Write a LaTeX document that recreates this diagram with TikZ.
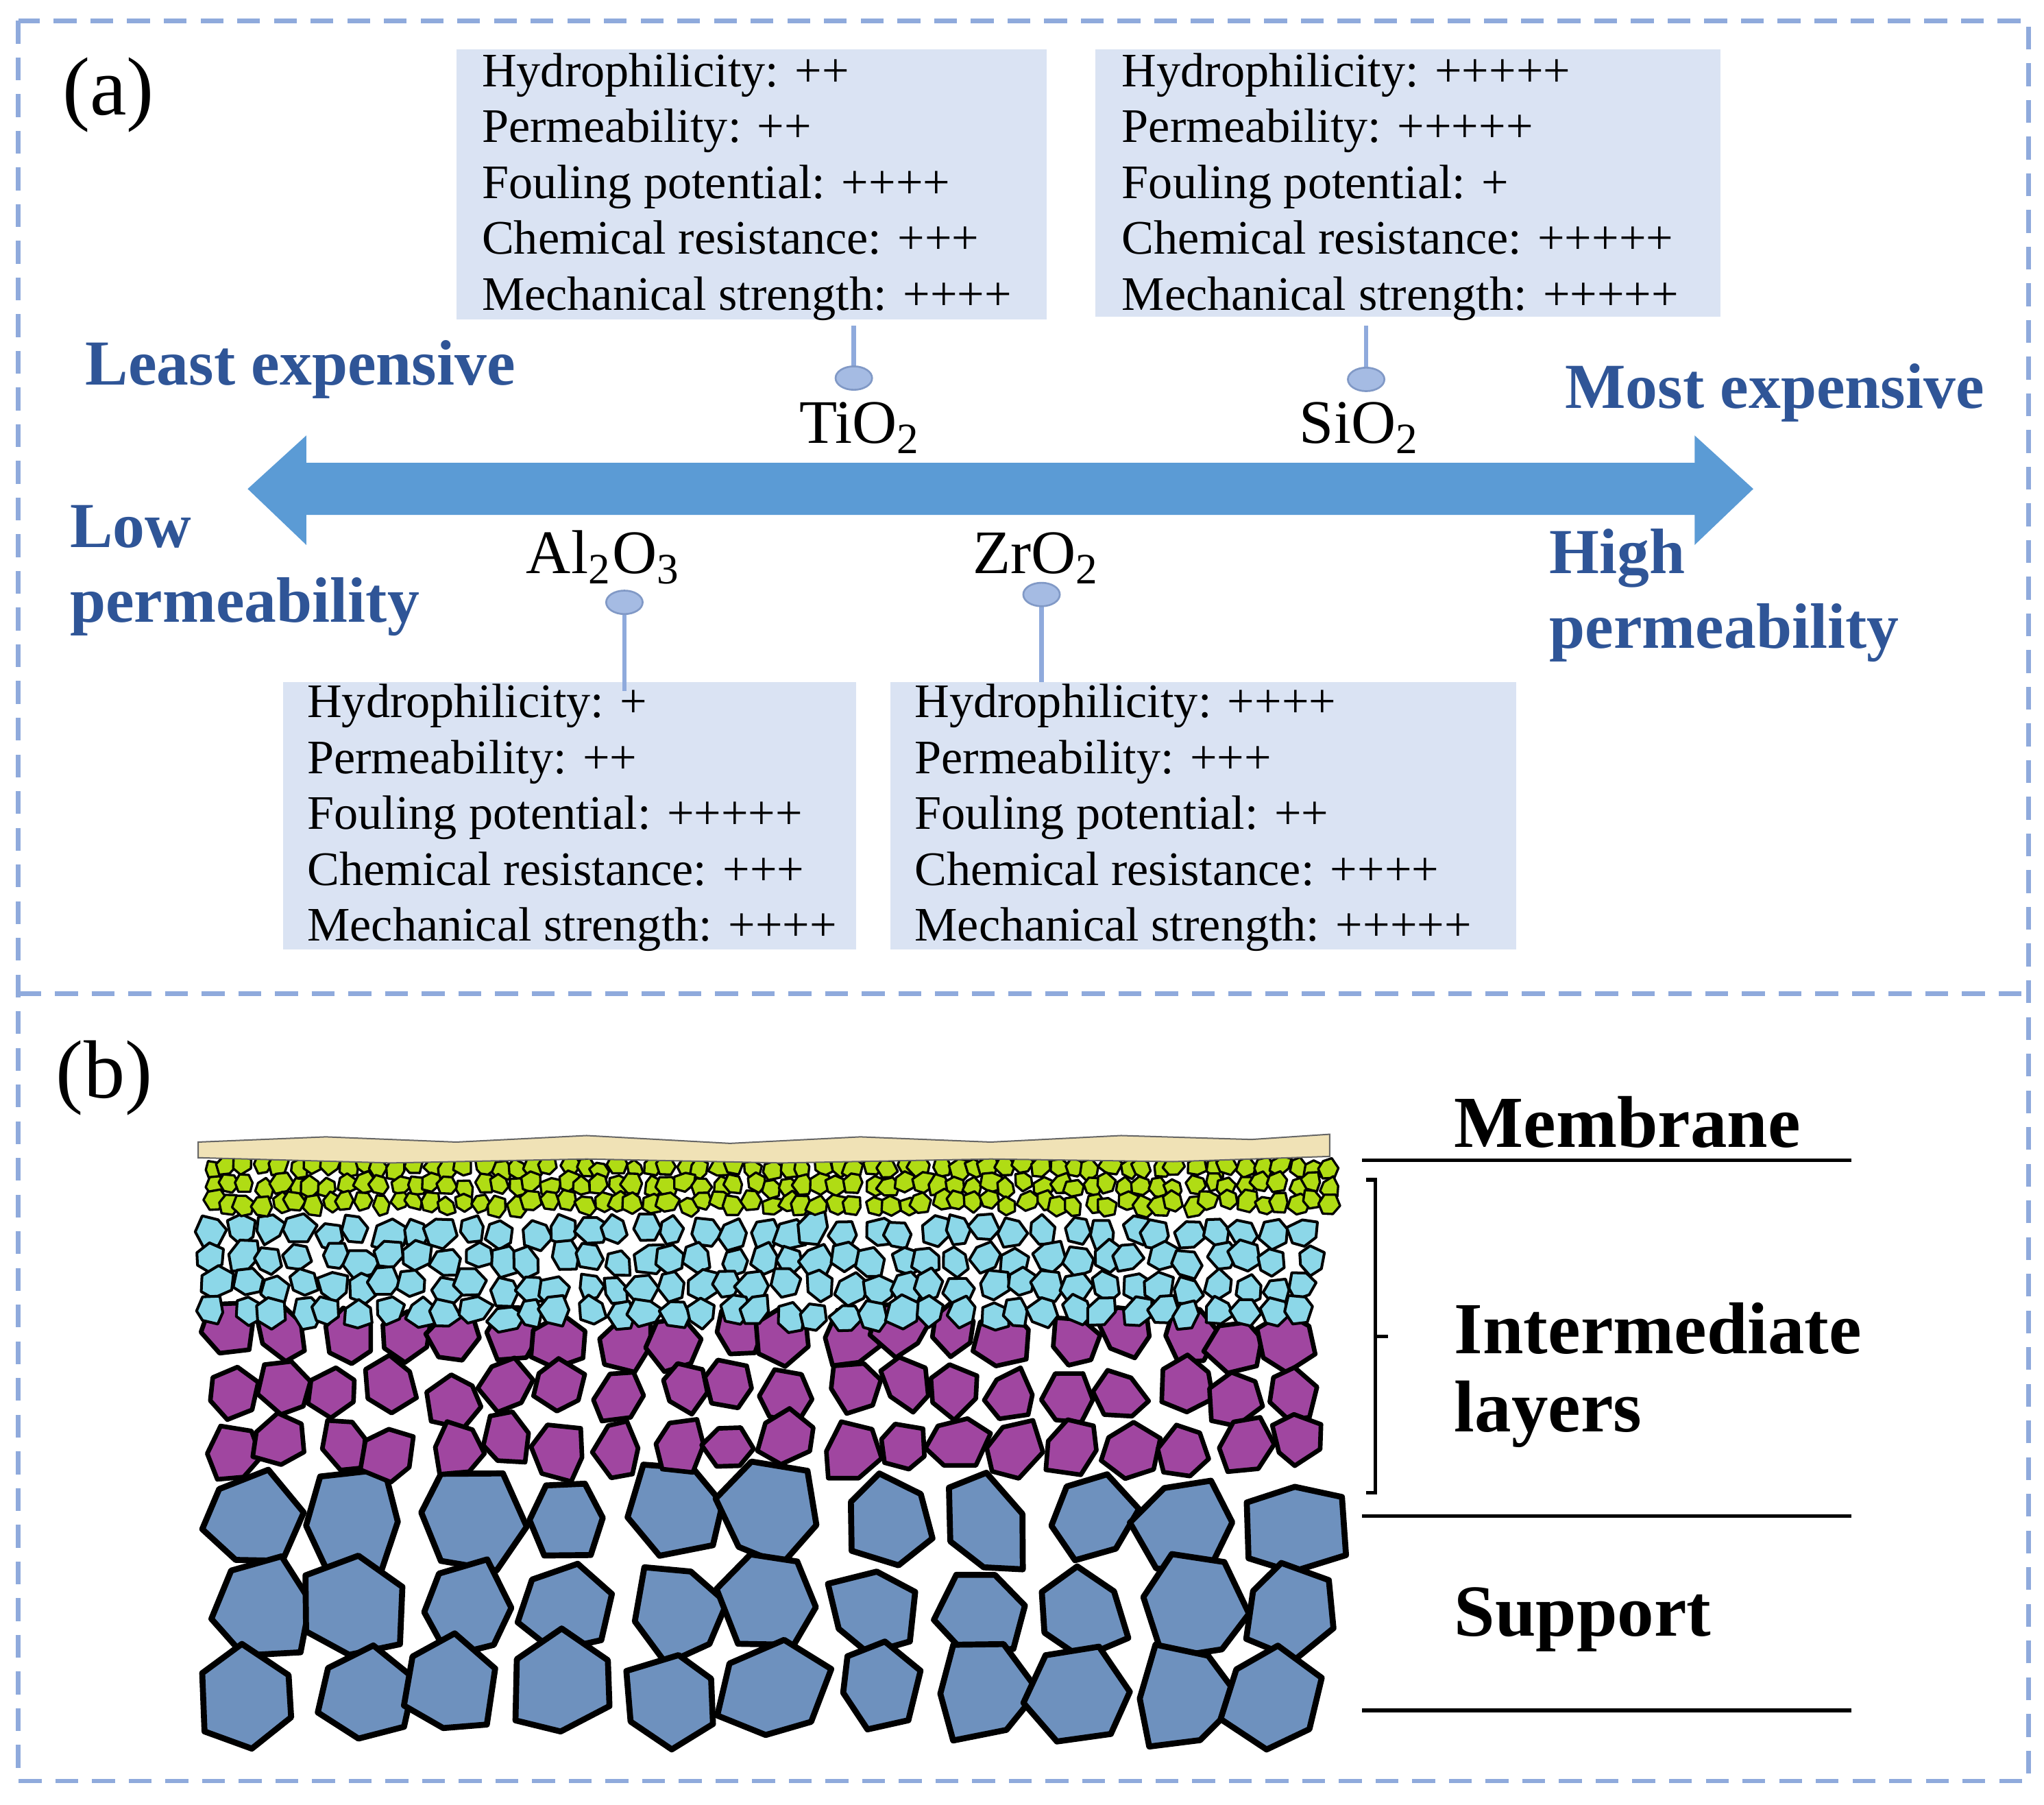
\documentclass[tikz,border=0pt]{standalone}
\usepackage{fontspec}
\setmainfont{Liberation Serif}
\begin{document}
\definecolor{boxfill}{RGB}{218,227,243}
\definecolor{arrowblue}{RGB}{91,155,213}
\definecolor{labblue}{RGB}{47,85,151}
\definecolor{pinblue}{RGB}{143,170,220}
\definecolor{dashc}{RGB}{143,170,220}
\definecolor{greenp}{RGB}{176,220,20}
\definecolor{cyanp}{RGB}{140,215,232}
\definecolor{purplep}{RGB}{160,70,160}
\definecolor{bluep}{RGB}{110,145,190}
\definecolor{beige}{RGB}{240,226,182}
\begin{tikzpicture}[x=0.01cm,y=-0.01cm,
  prop/.style={anchor=north west,align=left,inner sep=0pt,font=\fontsize{10.5}{12.2}\selectfont},
  pbox/.style={fill=boxfill,draw=none},
  blab/.style={anchor=base west,inner sep=0pt,text=labblue,font=\fontsize{14}{16}\selectfont\bfseries},
  chem/.style={anchor=base,inner sep=0pt,font=\fontsize{13.5}{16}\selectfont},
  pin/.style={draw=pinblue,line width=1pt},
  pinhead/.style={fill=pinblue!80,draw=pinblue!90!black,line width=0.4pt},
  blk/.style={anchor=base west,inner sep=0pt,font=\fontsize{16}{18}\selectfont\bfseries},
  sep/.style={line width=0.8pt}]
\useasboundingbox (0,0) rectangle (1568,1384);
\fill[white] (0,0) rectangle (1568,1384);
\draw[dashc,dashed,line width=1pt,dash pattern=on 5pt off 3pt] (14,16) rectangle (1556,1366);
\draw[dashc,line width=1pt,dash pattern=on 5pt off 3pt] (14,762) -- (1556,762);
\node[anchor=base,font=\fontsize{18}{20}\selectfont] (la) at (83,88) {(a)};
\node[anchor=base,font=\fontsize{18}{20}\selectfont] (lb) at (80,842) {(b)};
% boxes
\fill[pbox] (350,38) rectangle (803,245);
\fill[pbox] (840,38) rectangle (1320,243);
\fill[pbox] (217,523) rectangle (657,728);
\fill[pbox] (683,523) rectangle (1163,728);
\node[prop] (t1) at (369,40) {Hydrophilicity: ++\\Permeability: ++\\Fouling potential: ++++\\Chemical resistance: +++\\Mechanical strength: ++++};
\node[prop] (t2) at (860,40) {Hydrophilicity: +++++\\Permeability: +++++\\Fouling potential: +\\Chemical resistance: +++++\\Mechanical strength: +++++};
\node[prop] (t3) at (235,524) {Hydrophilicity: +\\Permeability: ++\\Fouling potential: +++++\\Chemical resistance: +++\\Mechanical strength: ++++};
\node[prop] (t4) at (701,524) {Hydrophilicity: ++++\\Permeability: +++\\Fouling potential: ++\\Chemical resistance: ++++\\Mechanical strength: +++++};
% arrow
\fill[arrowblue] (190,375) -- (235,334) -- (235,355) -- (1300,355) -- (1300,334) -- (1345,375) -- (1300,418) -- (1300,395) -- (235,395) -- (235,418) -- cycle;
% pins
\draw[pin] (655,250) -- (655,283); \draw[pinhead] (655,290) ellipse (14 and 9);
\draw[pin] (1048,250) -- (1048,284); \draw[pinhead] (1048,291) ellipse (14 and 9);
\draw[pin] (479,470) -- (479,530); \draw[pinhead] (479,462) ellipse (14 and 9);
\draw[pin] (799,464) -- (799,523); \draw[pinhead] (799,456) ellipse (14 and 9);
\node[chem] (ti) at (660,340) {TiO\textsubscript{2}};
\node[chem] (si) at (1043,340) {SiO\textsubscript{2}};
\node[chem] (al) at (463,440) {Al\textsubscript{2}O\textsubscript{3}};
\node[chem] (zr) at (795,440) {ZrO\textsubscript{2}};
\node[blab] (le) at (65,295) {Least expensive};
\node[blab] (me) at (1200,313) {Most expensive};
\node[blab] (lo) at (53,420) {Low};
\node[blab] (lp) at (53,477) {permeability};
\node[blab] (hi) at (1188,440) {High};
\node[blab] (hp) at (1188,497) {permeability};
% part b
\pgfmathsetseed{7}
\newcommand\mypart[5]{% x y r color lw
  \filldraw[fill=#4,draw=black,line width=#5,line join=round,shift={(#1,#2)},rotate={rnd*60},xscale={0.85+0.3*rnd}]
   (0:{#3*(0.65+0.35*rnd)}) -- (60:{#3*(0.65+0.35*rnd)}) -- (120:{#3*(0.65+0.35*rnd)}) -- (180:{#3*(0.65+0.35*rnd)}) -- (240:{#3*(0.65+0.35*rnd)}) -- (300:{#3*(0.65+0.35*rnd)}) -- cycle;}
% blue support
\foreach \yy in {1165,1235,1298}{
  \foreach \xx in {195,275,355,435,515,595,675,755,835,915,985}{
    \pgfmathsetmacro\px{\xx+rand*10}\pgfmathsetmacro\py{\yy+rand*7}
    \mypart{\px}{\py}{46}{bluep}{1.3pt}}}
% purple
\foreach \yy in {1025,1068,1110}{
  \foreach \xx in {175,218,...,1000}{
    \pgfmathsetmacro\px{\xx+rand*7}\pgfmathsetmacro\py{\yy+rand*7}
    \mypart{\px}{\py}{25}{purplep}{1pt}}}
% cyan
\foreach \yy in {945,966,987,1008}{
  \foreach \xx in {165,187,...,1010}{
    \pgfmathsetmacro\px{\xx+rand*5}\pgfmathsetmacro\py{\yy+rand*4}
    \mypart{\px}{\py}{14}{cyanp}{0.6pt}}}
% green
\foreach \yy in {895,909,923}{
  \foreach \xx in {162,175,...,1020}{
    \pgfmathsetmacro\px{\xx+rand*3}\pgfmathsetmacro\py{\yy+rand*3}
    \mypart{\px}{\py}{9.5}{greenp}{0.5pt}}}
% membrane
\filldraw[fill=beige,draw=black!60,line width=0.3pt] (152,876) -- (250,872) -- (350,876) -- (450,871) -- (560,877) -- (660,872) -- (760,876) -- (860,871) -- (960,874) -- (1020,870) -- (1020,887) -- (900,891) -- (760,889) -- (600,892) -- (450,889) -- (300,892) -- (152,888) -- cycle;
% labels b
\draw[sep] (1045,890) -- (1420,890);
\draw[sep] (1045,1163) -- (1420,1163);
\draw[sep] (1045,1312) -- (1420,1312);
\draw[line width=0.8pt] (1048,905) -- (1055,905) -- (1055,1145) -- (1048,1145) (1055,1025) -- (1065,1025);
\node[blk] (mb) at (1115,880) {Membrane};
\node[blk] (im) at (1115,1038) {Intermediate};
\node[blk] (ly) at (1115,1098) {layers};
\node[blk] (sp) at (1115,1255) {Support};
\end{tikzpicture}
\end{document}
